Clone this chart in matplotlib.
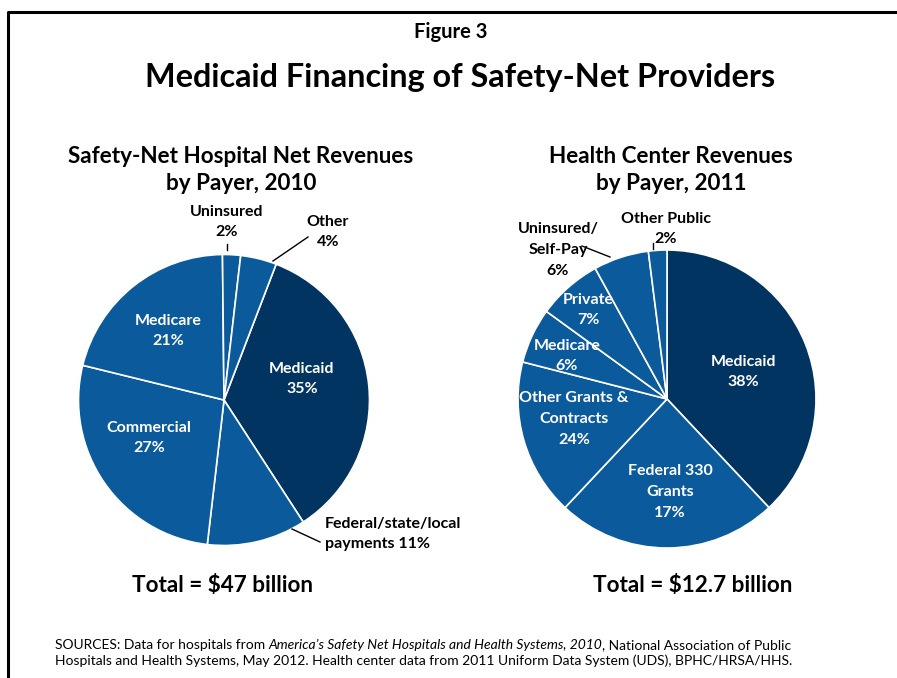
import matplotlib
matplotlib.use("Agg")
import matplotlib.pyplot as plt
from matplotlib.lines import Line2D

plt.rcParams["font.family"] = ["Lato", "DejaVu Sans"]

W, H = 897, 678

# Hospital net revenues by payer, 2010 (clockwise from Medicaid)
hosp_payers = ["Medicaid", "Federal/state/local", "Commercial", "Medicare", "Uninsured", "Other"]
hosp_share = [35, 11, 27, 21, 2, 4]
hosp_colors = ["#023462", "#0B5A9C", "#0B5A9C", "#0B5A9C", "#0B5A9C", "#0B5A9C"]

# Health center revenues by payer, 2011 (wedge sizes as drawn in the source)
hc_payers = ["Medicaid", "Federal 330 Grants", "Other Grants & Contracts", "Medicare",
             "Private", "Uninsured/Self-Pay", "Other Public"]
hc_share = [38, 24, 17, 6, 7, 6, 2]
hc_colors = ["#023462", "#0B5A9C", "#0B5A9C", "#0B5A9C", "#0B5A9C", "#0B5A9C", "#0B5A9C"]

DARK = "#000000"

fig = plt.figure(figsize=(W / 100, H / 100), dpi=100)


def pie_axes(cx, cy, r):
    ax = fig.add_axes([(cx - r) / W, (H - cy - r) / H, 2 * r / W, 2 * r / H])
    ax.axis("off")
    return ax


ax1 = pie_axes(224, 400, 145.5)
ax1.pie(hosp_share, colors=hosp_colors, startangle=69, counterclock=False, radius=1,
        wedgeprops=dict(edgecolor="white", linewidth=1.2))
ax1.set_xlim(-1, 1)
ax1.set_ylim(-1, 1)

ax2 = pie_axes(667, 399, 149)
ax2.pie(hc_share, colors=hc_colors, startangle=90, counterclock=False, radius=1,
        wedgeprops=dict(edgecolor="white", linewidth=1.2))
ax2.set_xlim(-1, 1)
ax2.set_ylim(-1, 1)

# overlay in pixel coordinates for all the text
ov = fig.add_axes([0, 0, 1, 1], facecolor="none")
ov.set_xlim(0, W)
ov.set_ylim(H, 0)
ov.axis("off")

# frame (cropped on the right and bottom)
ov.add_line(Line2D([8, 8, W], [H, 12, 12], color="black", lw=2.2))

ov.text(451, 32, "Figure 3", ha="center", va="center", fontsize=14.5, fontweight="bold")
ov.text(460, 77, "Medicaid Financing of Safety-Net Providers", ha="center", va="center",
        fontsize=23.3, fontweight="bold")

ov.text(241, 170, "Safety-Net Hospital Net Revenues\nby Payer, 2010", ha="center", va="center",
        fontsize=16.2, fontweight="bold", linespacing=1.4)
ov.text(671, 170, "Health Center Revenues\nby Payer, 2011", ha="center", va="center",
        fontsize=16.2, fontweight="bold", linespacing=1.4)

FS = 11.5
lab = dict(ha="center", va="center", fontsize=FS, fontweight="bold", linespacing=1.6)

# hospital pie labels
ov.text(227, 222, "Uninsured\n2%", color=DARK, **lab)
ov.text(328, 232, "Other\n4%", color=DARK, **lab)
ov.text(168, 331, "Medicare\n21%", color="white", **lab)
ov.text(302, 379, "Medicaid\n35%", color="white", **lab)
ov.text(149, 438, "Commercial\n27%", color="white", **lab)
ov.text(325, 534, "Federal/state/local\npayments 11%", color=DARK,
        ha="left", va="center", fontsize=FS, fontweight="bold", linespacing=1.6)
ov.add_line(Line2D([227, 227], [244, 250], color="black", lw=1))
ov.add_line(Line2D([308, 273], [237, 261], color="black", lw=1))
ov.add_line(Line2D([292, 320], [529, 542], color="black", lw=1))

# health center pie labels
ov.text(666, 229, "Other Public\n2%", color=DARK, **lab)
ov.text(558, 250, "Uninsured/\nSelf-Pay\n6%", color=DARK, **lab)
ov.text(588, 310, "Private\n7%", color="white", **lab)
ov.text(567, 356, "Medicare\n6%", color="white", **lab)
ov.text(574, 419, "Other Grants &\nContracts\n24%", color="white", **lab)
ov.text(670, 492, "Federal 330\nGrants\n17%", color="white", **lab)
ov.text(743, 372, "Medicaid\n38%", color="white", **lab)
ov.add_line(Line2D([653, 653], [243, 249], color="black", lw=1))
ov.add_line(Line2D([582, 610], [246, 257], color="black", lw=1))

ov.text(223, 585, "Total = $47 billion", ha="center", va="center", fontsize=16.2, fontweight="bold")
ov.text(693, 585, "Total = $12.7 billion", ha="center", va="center", fontsize=16.2, fontweight="bold")

# sources, with an italic title in the first line
SFS = 10
t = ov.text(55, 649, "SOURCES: Data for hospitals from ", fontsize=SFS, va="baseline")
t = ov.annotate("America\u2019s Safety Net Hospitals and Health Systems, 2010", xy=(1, 0),
                xycoords=t, va="bottom", style="italic", fontsize=SFS)
ov.annotate(", National Association of Public", xy=(1, 0), xycoords=t, va="bottom", fontsize=SFS)
ov.text(55, 665, "Hospitals and Health Systems, May 2012. Health center data from 2011 Uniform "
        "Data System (UDS), BPHC/HRSA/HHS.", fontsize=SFS, va="baseline")

fig.savefig("out.png", dpi=100)
